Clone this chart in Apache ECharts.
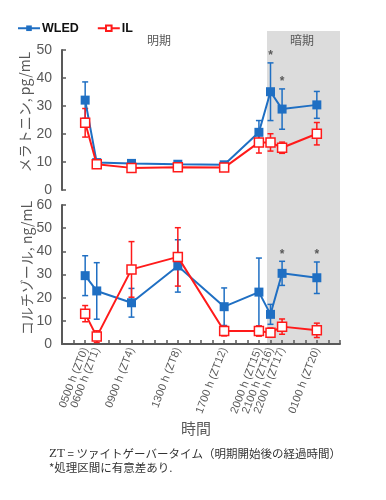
<!DOCTYPE html>
<html><head><meta charset="utf-8">
<script src="https://cdn.jsdelivr.net/npm/echarts@6/dist/echarts.min.js"></script>
<style>html,body{margin:0;padding:0;background:#fff}#c{width:386px;height:500px}</style>
</head><body><div id="c"></div>
<script>
// ---- data ----
const zt = [0, 1, 4, 8, 12, 15, 16, 17, 20];
const timeLabels = ['0500 h (ZT0)', '0600 h (ZT1)', '0900 h (ZT4)', '1300 h (ZT8)', '1700 h (ZT12)', '2000 h (ZT15)', '2100 h (ZT16)', '2200 h (ZT17)', '0100 h (ZT20)'];
const melWLED = [32.1, 9.8, 9.5, 9.2, 9.0, 20.6, 35.1, 28.9, 30.4];
const melWLEDErr = [6.5, 0.6, 0.5, 0.5, 0.5, 4.2, 10.3, 7.2, 4.8];
const melIL = [24.0, 9.2, 7.9, 8.1, 8.0, 17.0, 17.0, 15.1, 20.1];
const melILErr = [5.1, 0.6, 0.5, 0.5, 0.5, 3.8, 3.1, 2.0, 4.0];
const cortWLED = [29.5, 22.9, 17.8, 33.7, 16.1, 22.4, 12.8, 30.5, 28.6];
const cortWLEDErr = [8.6, 12.2, 6.2, 11.3, 8.1, 14.7, 4.3, 5.2, 6.8];
const cortIL = [13.1, 3.2, 32.2, 37.6, 5.6, 5.6, 4.9, 7.5, 5.9];
const cortILErr = [3.5, 2.5, 12.0, 12.6, 2.1, 2.2, 2.0, 3.3, 3.1];
const melSig = [16, 17];
const cortSig = [17, 20];
const darkStart = 15.7, darkEnd = 22;
const xMin = -2, xMax = 22;

const BLUE = '#1f6fc3', RED = '#ff1a1a', GRAY = '#595959';
const FONT = "'Liberation Sans','Noto Sans CJK JP',sans-serif";

function pts(vals) { return zt.map((x, i) => [x, vals[i]]); }
function errs(vals, e, sig) { return zt.map((x, i) => [x, vals[i] - e[i], vals[i] + e[i], sig && sig.indexOf(x) >= 0 ? 1 : 0]); }

function errSeries(name, data, color, xi, yi) {
  return {
    type: 'custom', name: name + 'err', xAxisIndex: xi, yAxisIndex: yi, z: 2, silent: true,
    data: data,
    renderItem: function (params, api) {
      const x = api.value(0);
      const lo = api.coord([x, api.value(1)]);
      const hi = api.coord([x, api.value(2)]);
      const w = 3;
      const st = { stroke: color, lineWidth: 1.5 };
      const ch = [
        { type: 'line', shape: { x1: lo[0], y1: lo[1], x2: hi[0], y2: hi[1] }, style: st },
        { type: 'line', shape: { x1: lo[0] - w, y1: lo[1], x2: lo[0] + w, y2: lo[1] }, style: st },
        { type: 'line', shape: { x1: hi[0] - w, y1: hi[1], x2: hi[0] + w, y2: hi[1] }, style: st }
      ];
      if (api.value(3)) {
        ch.push({ type: 'text', style: { text: '*', x: hi[0], y: hi[1] - 1, textAlign: 'center', textVerticalAlign: 'bottom', fill: GRAY, font: "bold 12px 'Liberation Sans'" } });
      }
      return { type: 'group', children: ch };
    }
  };
}

const labelMap = {};
zt.forEach((x, i) => labelMap[x] = timeLabels[i]);

const chart = echarts.init(document.getElementById('c'));
const yAxisCommon = {
  type: 'value', interval: 10, min: 0,
  axisLine: { show: true, onZero: false, lineStyle: { color: GRAY, width: 2 } },
  axisTick: { show: true, inside: true, length: 4, lineStyle: { color: GRAY, width: 1.5 } },
  axisLabel: { color: GRAY, fontSize: 14, fontFamily: FONT, margin: 10 },
  splitLine: { show: false }
};
const option = {
  animation: false,
  textStyle: { fontFamily: FONT },
  legend: {
    left: 17, top: 22, padding: 0, itemWidth: 22, itemHeight: 7, itemGap: 18,
    data: ['WLED', 'IL'],
    textStyle: { fontWeight: 'bold', fontSize: 12.5, color: '#111', fontFamily: FONT, padding: [0, 0, 0, -3] }
  },
  grid: [
    { left: 62, top: 50, width: 278, height: 140 },
    { left: 62, top: 205, width: 278, height: 139 }
  ],
  xAxis: [
    { type: 'value', gridIndex: 0, min: xMin, max: xMax, interval: 1, show: false, splitLine: { show: false } },
    {
      type: 'value', gridIndex: 1, min: xMin, max: xMax, interval: 1,
      axisLine: { show: true, onZero: false, lineStyle: { color: GRAY, width: 2 } },
      axisTick: { show: true, inside: true, length: 4, lineStyle: { color: GRAY, width: 1.5 } },
      axisLabel: { rotate: 69, fontSize: 11, color: GRAY, fontFamily: FONT, margin: 4, formatter: v => labelMap[v] || '' },
      splitLine: { show: false }
    }
  ],
  yAxis: [
    Object.assign({}, yAxisCommon, { gridIndex: 0, max: 50 }),
    Object.assign({}, yAxisCommon, { gridIndex: 1, max: 60 })
  ],
  series: [
    errSeries('mW', errs(melWLED, melWLEDErr, melSig), BLUE, 0, 0),
    errSeries('mI', errs(melIL, melILErr, null), RED, 0, 0),
    errSeries('cW', errs(cortWLED, cortWLEDErr, cortSig), BLUE, 1, 1),
    errSeries('cI', errs(cortIL, cortILErr, null), RED, 1, 1),
    { name: 'WLED', type: 'line', xAxisIndex: 0, yAxisIndex: 0, data: pts(melWLED), z: 3, symbol: 'rect', symbolSize: 9,
      lineStyle: { color: BLUE, width: 2 }, itemStyle: { color: BLUE } },
    { name: 'IL', type: 'line', xAxisIndex: 0, yAxisIndex: 0, data: pts(melIL), z: 4, symbol: 'rect', symbolSize: 9, showAllSymbol: true,
      lineStyle: { color: RED, width: 2 }, itemStyle: { color: '#fff', borderColor: RED, borderWidth: 1.5 } },
    { name: 'WLED', type: 'line', xAxisIndex: 1, yAxisIndex: 1, data: pts(cortWLED), z: 3, symbol: 'rect', symbolSize: 9,
      lineStyle: { color: BLUE, width: 2 }, itemStyle: { color: BLUE } },
    { name: 'IL', type: 'line', xAxisIndex: 1, yAxisIndex: 1, data: pts(cortIL), z: 4, symbol: 'rect', symbolSize: 9,
      lineStyle: { color: RED, width: 2 }, itemStyle: { color: '#fff', borderColor: RED, borderWidth: 1.5 } }
  ]
};
chart.setOption(option);

const xs = chart.convertToPixel({ xAxisIndex: 1 }, darkStart);
const xe = chart.convertToPixel({ xAxisIndex: 1 }, darkEnd);
const yb = chart.convertToPixel({ yAxisIndex: 1 }, 0);
chart.setOption({
  graphic: [
    { type: 'rect', z: -10, silent: true, shape: { x: xs, y: 31, width: xe - xs, height: yb - 31 }, style: { fill: '#dcdcdc' } },
    { type: 'text', left: 147, top: 34, style: { text: '明期', fill: GRAY, font: "12px 'Noto Sans CJK JP'" } },
    { type: 'text', left: 290, top: 34, style: { text: '暗期', fill: GRAY, font: "12px 'Noto Sans CJK JP'" } },
    { type: 'text', x: 25, y: 112, rotation: Math.PI / 2, style: { text: 'メラトニン, pg/mL', fill: GRAY, font: "14px 'Noto Sans CJK JP'", textAlign: 'center', textVerticalAlign: 'middle' } },
    { type: 'text', x: 27, y: 268, rotation: Math.PI / 2, style: { text: 'コルチゾール, ng/mL', fill: GRAY, font: "14px 'Noto Sans CJK JP'", textAlign: 'center', textVerticalAlign: 'middle' } },
    { type: 'text', x: 196, y: 428, style: { text: '時間', fill: GRAY, font: "15px 'Noto Sans CJK JP'", textAlign: 'center', textVerticalAlign: 'middle' } },
    { type: 'text', x: 49, y: 454, style: { text: '{a|ZT} = ツァイトゲーバータイム（明期開始後の経過時間）', fill: '#333', font: "11.5px 'Noto Sans CJK JP'", textVerticalAlign: 'middle',
      rich: { a: { fontFamily: 'Liberation Serif', fontSize: 13, fill: '#333' } } } },
    { type: 'text', x: 49, y: 468, style: { text: '*処理区間に有意差あり.', fill: '#333', font: "11.5px 'Noto Sans CJK JP'", textVerticalAlign: 'middle' } }
  ]
});
</script></body></html>
